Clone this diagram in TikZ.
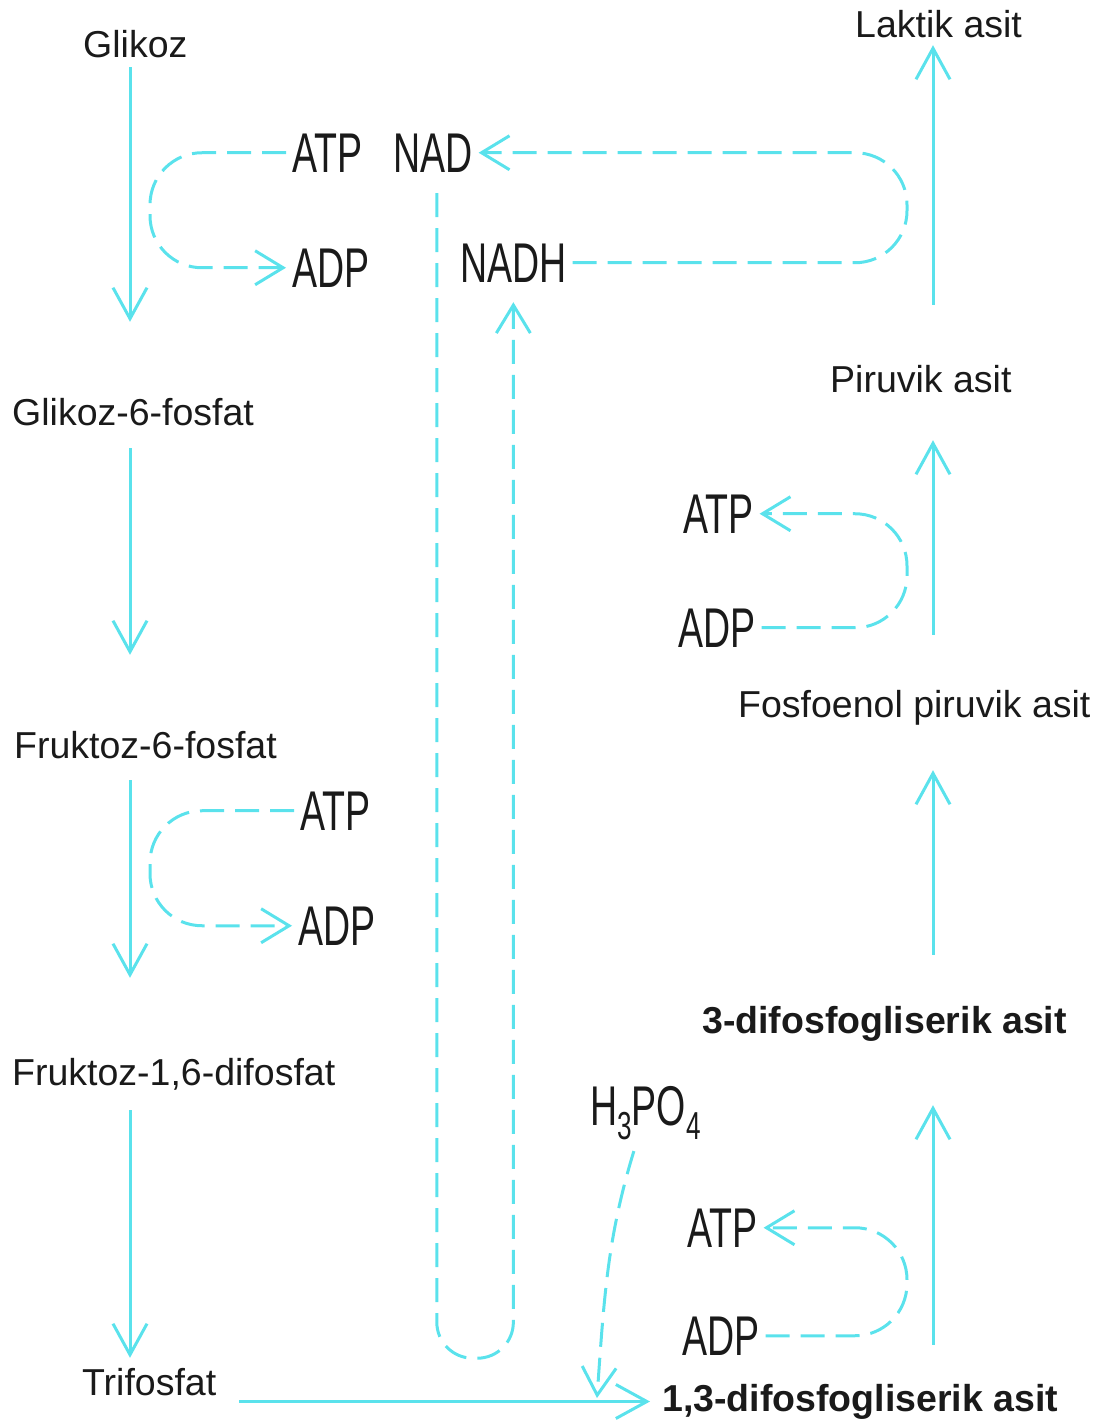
\documentclass[tikz,border=0pt]{standalone}
\usepackage{fontspec}
\setmainfont{Liberation Sans}
\newfontfamily\narrowfont[FakeStretch=0.67]{Liberation Sans}
\usetikzlibrary{arrows.meta}

\definecolor{glyc}{RGB}{90,226,236}
\definecolor{ink}{RGB}{26,26,26}

\tikzset{
  stage/.style={anchor=base west, inner sep=0pt, text height=27pt, text depth=8pt,
    text=ink, font=\fontsize{37.5}{40}\selectfont},
  boldstage/.style={stage, font=\fontsize{37.5}{40}\selectfont\bfseries},
  cofactor/.style={anchor=base west, inner xsep=6pt, inner ysep=0pt,
    text=ink, font=\narrowfont\fontsize{56}{60}\selectfont},
  flow/.style={draw=glyc, line width=3pt,
    -{Straight Barb[length=31pt,width=34pt]}},
  recycle/.style={draw=glyc, line width=3pt, dash pattern=on 24pt off 11pt,
    rounded corners=52pt},
  recyclearrow/.style={recycle, -{Straight Barb[length=28pt,width=34pt]}}
}

\begin{document}
\begin{tikzpicture}[x=1pt, y=-1pt]

    \useasboundingbox (0,0) rectangle (1112,1428);

    \coordinate (colL) at (130,0);
    \coordinate (colR) at (933,0);
    \coordinate (loopL) at (150,0);
    \coordinate (loopR) at (907,0);
    \coordinate (join) at (597,1398);

    % glycolysis, left column
    \node[stage] (glikoz) at (83,57) {Glikoz};
    \node[stage] (g6p) at (12,425) {Glikoz-6-fosfat};
    \node[stage] (f6p) at (14,758) {Fruktoz-6-fosfat};
    \node[stage] (f16) at (12,1085) {Fruktoz-1,6-difosfat};
    \node[stage] (tri) at (82,1395) {Trifosfat};

    % right column
    \node[boldstage] (dfg13) at (662,1411) {1,3-difosfogliserik asit};
    \node[boldstage] (dfg3) at (702,1033) {3-difosfogliserik asit};
    \node[stage] (pep) at (738,717) {Fosfoenol piruvik asit};
    \node[stage] (pir) at (830,392) {Piruvik asit};
    \node[stage] (lak) at (855,37) {Laktik asit};

    % cofactors
    \node[cofactor] (atpA) at (286,172) {ATP};
    \node[cofactor] (adpA) at (286,287) {ADP};
    \node[cofactor] (nad) at (387,172) {NAD};
    \node[cofactor] (nadh) at (454,282) {NADH};
    \node[cofactor] (atpB) at (294,830) {ATP};
    \node[cofactor] (adpB) at (292,945) {ADP};
    \node[cofactor] (atpC) at (677,533) {ATP};
    \node[cofactor] (adpC) at (672,647) {ADP};
    \node[cofactor] (atpD) at (681,1247) {ATP};
    \node[cofactor] (adpD) at (676,1355) {ADP};
    \node[cofactor] (h3po4) at (584,1125)
      {H\raisebox{-14pt}{\fontsize{39}{40}\selectfont 3}PO\raisebox{-14pt}{\fontsize{39}{40}\selectfont 4}};

    \draw[flow, shorten <=2pt, shorten >=76pt] (glikoz.south -| colL) -- (g6p.north -| colL);
    \draw[flow, shorten <=15pt, shorten >=76pt] (g6p.south -| colL) -- (f6p.north -| colL);
    \draw[flow, shorten <=14pt, shorten >=80pt] (f6p.south -| colL) -- (f16.north -| colL);
    \draw[flow, shorten <=17pt, shorten >=10pt] (f16.south -| colL) -- (tri.north -| colL);
    \draw[flow, shorten <=23pt, shorten >=12pt] (tri.east |- dfg13.west) -- (dfg13.west);
    \draw[flow, shorten <=39pt, shorten >=64pt] (dfg13.north -| colR) -- (dfg3.south -| colR);
    \draw[flow, shorten <=51pt, shorten >=45pt] (dfg3.north -| colR) -- (pep.south -| colR);
    \draw[flow, shorten <=55pt, shorten >=40pt] (pep.north -| colR) -- (pir.south -| colR);
    \draw[flow, shorten <=60pt] (pir.north -| colR) -- (lak.south -| colR);

    \draw[recyclearrow] (atpA.west) -- (atpA.west -| loopL) -- (adpA.west -| loopL) -- (adpA.west);
    \draw[recyclearrow] (atpB.west) -- (atpB.west -| loopL) -- (adpB.west -| loopL) -- (adpB.west);
    \draw[recyclearrow] (nadh.east) -- (nadh.east -| loopR) -- (nad.east -| loopR) -- (nad.east);
    \draw[recyclearrow] (adpC.east) -- (adpC.east -| loopR) -- (atpC.east -| loopR) -- (atpC.east);
    \draw[recyclearrow] (adpD.east) -- (adpD.east -| loopR) -- (atpD.east -| loopR) -- (atpD.east);
    \draw[recyclearrow, rounded corners=36pt, shorten <=21pt, shorten >=20pt]
      ([xshift=4pt]nad.south) -- ++(0,1186) -| (nadh.south);
    \draw[recyclearrow, shorten <=12pt] ([xshift=-8pt]h3po4.south) to[out=-107, in=86] (join);

  \end{tikzpicture}
\end{document}
